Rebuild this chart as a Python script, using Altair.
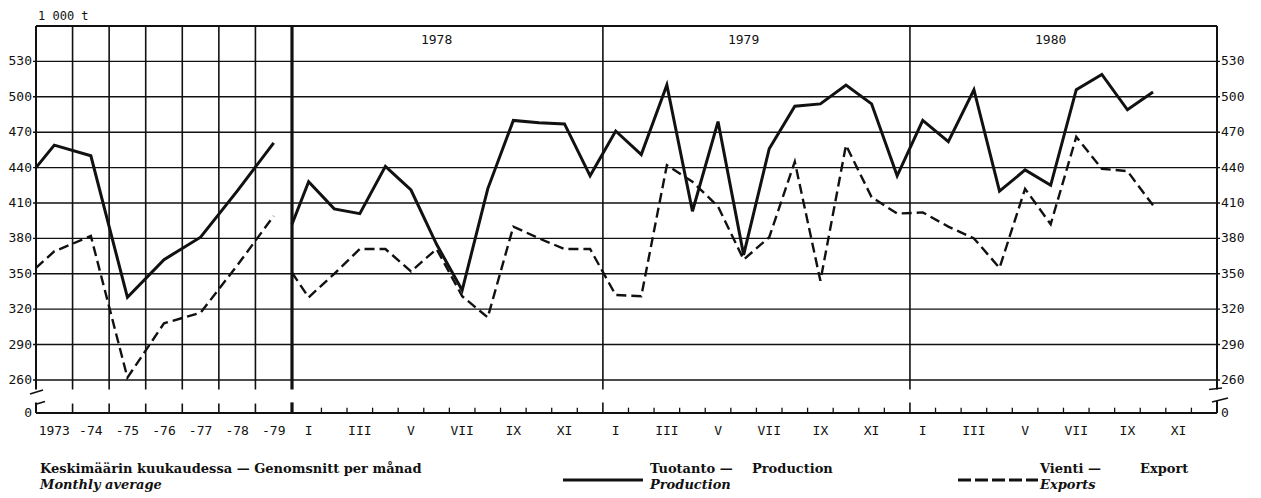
import altair as alt
import pandas as pd

# ---------------- data ----------------
years = [1973, 1974, 1975, 1976, 1977, 1978, 1979]
year_labels = ["1973", "-74", "-75", "-76", "-77", "-78", "-79"]
annual_production = [459, 450, 330, 362, 381, 420, 461]
annual_exports = [369, 382, 262, 308, 317, 357, 399]
annual_edge_production = 440   # value where the line enters at the left edge
annual_edge_exports = 355

month_labels = ["I", "II", "III", "IV", "V", "VI", "VII", "VIII", "IX", "X", "XI", "XII"]
panel_years = ["1978", "1979", "1980"]
production_1978 = [428, 405, 401, 441, 421, 375, 336, 422, 480, 478, 477, 433]
production_1979 = [471, 451, 510, 403, 479, 366, 456, 492, 494, 510, 494, 433]
production_1980 = [480, 462, 506, 420, 438, 425, 506, 519, 489, 504]
exports_1978 = [330, 350, 371, 371, 352, 371, 331, 313, 390, 380, 371, 371]
exports_1979 = [332, 331, 442, 428, 407, 362, 381, 445, 344, 459, 415, 401]
exports_1980 = [402, 390, 380, 355, 422, 392, 466, 439, 437, 408]
monthly_edge_production = 392
monthly_edge_exports = 351

y_ticks = [260, 290, 320, 350, 380, 410, 440, 470, 500, 530]
unit_label = "1 000 t"

legend_heading = "Keskimäärin kuukaudessa — Genomsnitt per månad"
legend_heading_en = "Monthly average"
series_fi = ["Tuotanto —", "Vienti —"]
series_sv = ["Production", "Export"]
series_en = ["Production", "Exports"]

# ---------------- layout constants ----------------
INK = "#111111"
FONT_AXIS = "DejaVu Sans Mono"
FONT_LEGEND = "DejaVu Serif"
W_LEFT, W_RIGHT, H = 256, 925, 387
Y_DOMAIN = [232, 560]
Y_ZERO, Y_TOP, Y_BREAK = 232, 560, 252
X_LEFT_DOMAIN = [1972.5, 1979.5]
X_RIGHT_DOMAIN = [0.35, 36.5]

# ---------------- tables ----------------
annual_x = [X_LEFT_DOMAIN[0]] + years
annual = pd.concat([
    pd.DataFrame({"x": annual_x, "value": [annual_edge_production] + annual_production, "series": "Tuotanto"}),
    pd.DataFrame({"x": annual_x, "value": [annual_edge_exports] + annual_exports, "series": "Vienti"}),
])
prod_m = production_1978 + production_1979 + production_1980
exp_m = exports_1978 + exports_1979 + exports_1980
monthly = pd.concat([
    pd.DataFrame({"x": [X_RIGHT_DOMAIN[0]] + list(range(1, len(prod_m) + 1)),
                  "value": [monthly_edge_production] + prod_m, "series": "Tuotanto"}),
    pd.DataFrame({"x": [X_RIGHT_DOMAIN[0]] + list(range(1, len(exp_m) + 1)),
                  "value": [monthly_edge_exports] + exp_m, "series": "Vienti"}),
])
left_bounds = pd.DataFrame({"b": [y + 0.5 for y in years[:-1]]})
month_bounds = pd.DataFrame({"b": [m + 0.5 for m in range(1, 36) if m % 12 != 0]})
year_bounds = pd.DataFrame({"b": [12.5, 24.5]})
year_heads = pd.DataFrame({"x": [12 * i + 6 for i in range(3)], "label": panel_years})
grid_df = pd.DataFrame({"value": y_ticks})
y_label_df = pd.DataFrame({"value": [Y_ZERO] + y_ticks, "label": ["0"] + [str(v) for v in y_ticks]})
left_x_labels = pd.DataFrame({"x": years, "label": year_labels})
right_x_labels = pd.DataFrame({"x": list(range(1, 37, 2)),
                               "label": [month_labels[(m - 1) % 12] for m in range(1, 37, 2)]})
one = pd.DataFrame({"k": [0]})


def yscale():
    return alt.Scale(domain=Y_DOMAIN, nice=False, zero=False)


def lscale():
    return alt.Scale(domain=X_LEFT_DOMAIN, nice=False, zero=False)


def rscale():
    return alt.Scale(domain=X_RIGHT_DOMAIN, nice=False, zero=False)


def yfield(f="value"):
    return alt.Y(f"{f}:Q", scale=yscale(), axis=None)


def ydat(v):
    return alt.YDatum(v, type="quantitative", scale=yscale(), axis=None)


def rule(data, width=1.6, dash=None, **enc):
    kw = dict(color=INK, strokeWidth=width)
    if dash:
        kw["strokeDash"] = dash
    return alt.Chart(data).mark_rule(**kw).encode(**enc)


def axis_text(data, align="center", size=13, **enc):
    return alt.Chart(data).mark_text(font=FONT_AXIS, fontSize=size, color=INK, align=align,
                                     baseline="middle").encode(text="label:N", **enc)


def text(s, x, y, italic=False, size=13):
    kw = dict(font=FONT_LEGEND, fontSize=size, fontWeight="bold", color=INK,
              align="left", baseline="alphabetic")
    if italic:
        kw["fontStyle"] = "italic"
    return alt.Chart(one).mark_text(**kw).encode(
        x=alt.value(x), y=alt.value(y), text=alt.value(s))


LEG_Y1, LEG_Y2, LEG_LINE = 447, 463, 454
LABEL_Y = H + 18
GRID_W = 1.4
PROD_W, EXP_W, EXP_DASH = 3.0, 2.4, [10, 5]

# ---------------- left panel (annual) ----------------
lx = lambda f="x": alt.X(f"{f}:Q", scale=lscale(), axis=None)
lbase = alt.Chart(annual)
left = alt.layer(
    rule(grid_df, GRID_W, x=alt.value(-3), x2=alt.value(W_LEFT), y=yfield()),
    rule(left_bounds, 1.6, x=lx("b"), y=ydat(Y_TOP), y2=alt.datum(Y_BREAK)),
    rule(left_bounds, 1.6, x=lx("b"), y=ydat(Y_ZERO), y2=alt.datum(240)),
    rule(one, 2, x=alt.value(0), y=ydat(Y_TOP), y2=alt.datum(Y_BREAK)),
    rule(one, 1.8, x=alt.value(0), x2=alt.value(W_LEFT), y=alt.value(0)),
    rule(one, 2, x=alt.value(0), x2=alt.value(W_LEFT), y=alt.value(H)),
    rule(one, 1.6, x=alt.value(-6), x2=alt.value(7), y=alt.value(368), y2=alt.value(364)),
    rule(one, 1.6, x=alt.value(-1), x2=alt.value(9), y=alt.value(378.5), y2=alt.value(375.5)),
    rule(one, 2, x=alt.value(0), y=alt.value(376.5), y2=alt.value(H)),
    lbase.transform_filter("datum.series == 'Tuotanto'").mark_line(
        color=INK, strokeWidth=PROD_W).encode(x=lx(), y=yfield()),
    lbase.transform_filter("datum.series == 'Vienti'").mark_line(
        color=INK, strokeWidth=EXP_W, strokeDash=EXP_DASH).encode(x=lx(), y=yfield()),
    axis_text(y_label_df, align="right", x=alt.value(-4), y=yfield()),
    axis_text(left_x_labels, x=lx(), y=alt.value(LABEL_Y)),
    alt.Chart(one).mark_text(font=FONT_AXIS, fontSize=12, color=INK, align="left",
                             baseline="alphabetic").encode(
        x=alt.value(2), y=alt.value(-6), text=alt.value(unit_label)),
    text(legend_heading, 4, LEG_Y1),
    text(legend_heading_en, 4, LEG_Y2, italic=True),
).properties(width=W_LEFT, height=H)

# ---------------- right panel (monthly) ----------------
rx = lambda f="x": alt.X(f"{f}:Q", scale=rscale(), axis=None)
rbase = alt.Chart(monthly)
right = alt.layer(
    rule(grid_df, GRID_W, x=alt.value(0), x2=alt.value(W_RIGHT + 3), y=yfield()),
    rule(year_bounds, 1.6, x=rx("b"), y=ydat(Y_TOP), y2=alt.datum(Y_BREAK)),
    rule(year_bounds, 1.6, x=rx("b"), y=ydat(Y_ZERO), y2=alt.datum(241)),
    rule(month_bounds, 1.3, x=rx("b"), y=ydat(Y_ZERO), y2=alt.datum(236.5)),
    rule(one, 3.2, x=alt.value(0), y=ydat(Y_TOP), y2=alt.datum(Y_BREAK)),
    rule(one, 3.2, x=alt.value(0), y=ydat(Y_ZERO), y2=alt.datum(241)),
    rule(one, 2, x=alt.value(W_RIGHT), y=ydat(Y_TOP), y2=alt.datum(Y_BREAK)),
    rule(one, 1.8, x=alt.value(0), x2=alt.value(W_RIGHT), y=alt.value(0)),
    rule(one, 2, x=alt.value(0), x2=alt.value(W_RIGHT), y=alt.value(H)),
    rule(one, 1.6, x=alt.value(W_RIGHT - 8), x2=alt.value(W_RIGHT + 5), y=alt.value(363.5), y2=alt.value(362)),
    rule(one, 1.6, x=alt.value(W_RIGHT - 5), x2=alt.value(W_RIGHT + 11), y=alt.value(376), y2=alt.value(372)),
    rule(one, 2, x=alt.value(W_RIGHT), y=alt.value(375), y2=alt.value(H)),
    rbase.transform_filter("datum.series == 'Tuotanto'").mark_line(
        color=INK, strokeWidth=PROD_W).encode(x=rx(), y=yfield()),
    rbase.transform_filter("datum.series == 'Vienti'").mark_line(
        color=INK, strokeWidth=EXP_W, strokeDash=EXP_DASH).encode(x=rx(), y=yfield()),
    axis_text(y_label_df, align="left", x=alt.value(W_RIGHT + 4), y=yfield()),
    axis_text(right_x_labels, x=rx(), y=alt.value(LABEL_Y)),
    axis_text(year_heads, x=rx(), y=alt.value(14)),
    # legend
    rule(one, 2.8, x=alt.value(271), x2=alt.value(351), y=alt.value(LEG_LINE)),
    rule(one, 2.8, dash=[13, 4], x=alt.value(666), x2=alt.value(746), y=alt.value(LEG_LINE)),
    text(series_fi[0], 358, LEG_Y1),
    text(series_sv[0], 460, LEG_Y1),
    text(series_en[0], 358, LEG_Y2, italic=True),
    text(series_fi[1], 748, LEG_Y1),
    text(series_sv[1], 848, LEG_Y1),
    text(series_en[1], 748, LEG_Y2, italic=True),
).properties(width=W_RIGHT, height=H)

chart = alt.hconcat(left, right, spacing=0, bounds="flush").properties(
    padding={"left": 0, "top": 2, "right": 0, "bottom": 0},
    background="white",
).configure_view(stroke=None)

chart.save("out.html", embed_options={"renderer": "svg", "actions": False})
